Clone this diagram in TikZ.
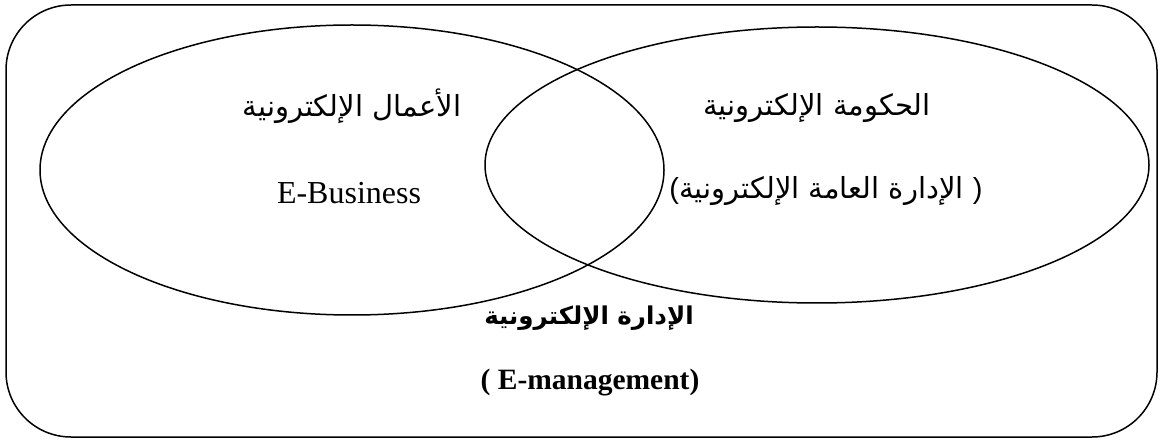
\documentclass[tikz,border=0pt]{standalone}
\usepackage{fontspec}
\setmainfont{Liberation Serif}
\newfontfamily\arabicfont[Script=Arabic]{DejaVu Sans}
\newfontfamily\parfont{Liberation Sans}
\TeXXeTstate=1
\begin{document}
\begin{tikzpicture}[x=1pt,y=1pt,
  outline/.style={draw=black,line width=1.5pt},
  artext/.style={font=\arabicfont\fontsize{29}{32}\selectfont,inner sep=0pt},
  artextb/.style={font=\arabicfont\bfseries\fontsize{24.5}{28}\selectfont,inner sep=0pt},
  latext/.style={font=\fontsize{32}{36}\selectfont,inner sep=0pt},
  latextb/.style={font=\bfseries\fontsize{29.5}{34}\selectfont,inner sep=0pt}]
\useasboundingbox (0,0) rectangle (1162,442);
\draw[outline,rounded corners=65pt] (6,5) rectangle (1157,437);
\draw[outline] (352,272) ellipse [x radius=312, y radius=145];
\draw[outline] (817,277) ellipse [x radius=332, y radius=138];
\node[artext] (abiz) at (352,336) {\beginR الأعمال الإلكترونية\endR};
\node[latext] (ebiz) at (349,249) {E-Business};
\node[artext] (agov) at (817,334) {\beginR الحكومة الإلكترونية\endR};
\node[artext] (apub) at (826,251) {{\parfont(}\beginR الإدارة العامة الإلكترونية\endR\ {\parfont)}};
\node[artextb] (aman) at (589,124) {\beginR الإدارة الإلكترونية\endR};
\node[latextb] (eman) at (590,59) {( E-management)};
\end{tikzpicture}
\end{document}
